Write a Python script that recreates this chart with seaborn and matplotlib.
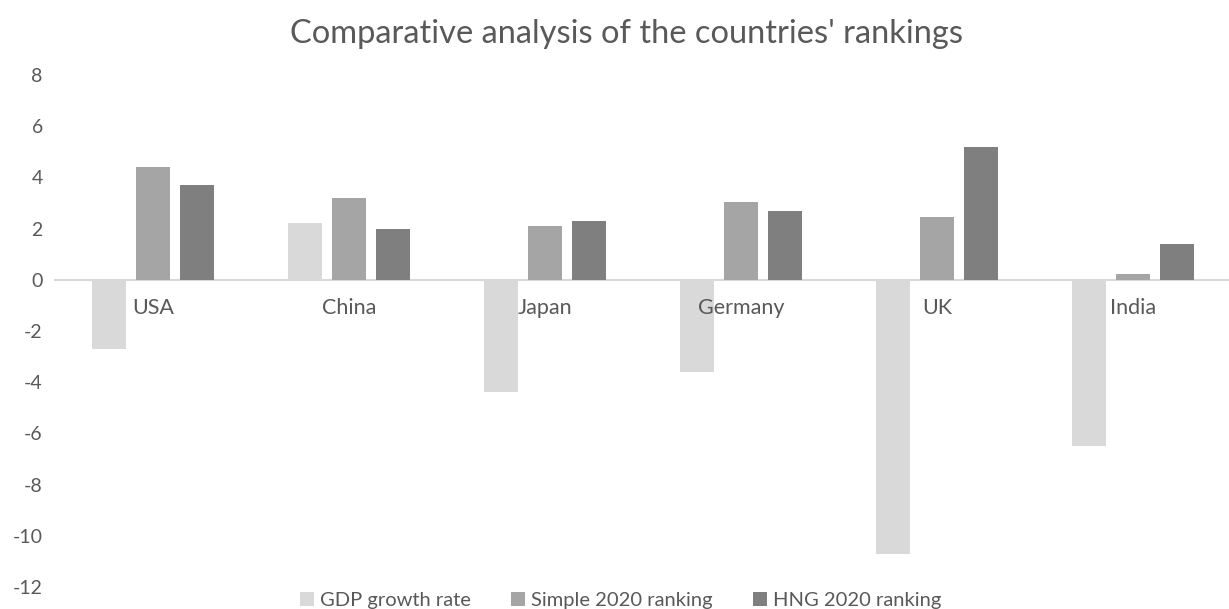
import matplotlib
matplotlib.use("Agg")
import matplotlib.pyplot as plt
import seaborn as sns
import pandas as pd

# values
countries = ["USA", "China", "Japan", "Germany", "UK", "India"]
gdp_growth = [-2.7, 2.2, -4.4, -3.6, -10.7, -6.5]
simple_2020 = [4.4, 3.2, 2.1, 3.05, 2.45, 0.23]
hng_2020 = [3.7, 2.0, 2.3, 2.7, 5.2, 1.4]
series = ["GDP growth rate", "Simple 2020 ranking", "HNG 2020 ranking"]
yticks = [-12, -10, -8, -6, -4, -2, 0, 2, 4, 6, 8]

df = pd.DataFrame({
    "country": countries * 3,
    "value": gdp_growth + simple_2020 + hng_2020,
    "series": [s for s in series for _ in countries],
})

sns.set_style("white")
plt.rcParams["font.family"] = ["Lato", "DejaVu Sans"]
txt = "#595959"

fig = plt.figure(figsize=(12.29, 6.09), dpi=100)
ax = fig.add_axes([0.045, 0.036, 0.955, 0.841])

sns.barplot(data=df, x="country", y="value", hue="series", order=countries,
            hue_order=series, palette=["#d9d9d9", "#a5a5a5", "#7f7f7f"],
            width=0.673, gap=0.23, linewidth=0, ax=ax)

ax.set_ylim(-12, 8)
ax.set_xlim(-0.5, 5.49)
ax.set_yticks(yticks)
ax.set_yticklabels([str(t) for t in yticks], color=txt, fontsize=14)
ax.set_xlabel("")
ax.set_ylabel("")

for s in ["top", "right", "left"]:
    ax.spines[s].set_visible(False)
ax.spines["bottom"].set_position(("data", 0))
ax.spines["bottom"].set_color("#d9d9d9")
ax.spines["bottom"].set_linewidth(1.5)
ax.spines["bottom"].set_zorder(0)
ax.tick_params(axis="x", length=0, pad=13, labelsize=15.5, labelcolor=txt)
ax.tick_params(axis="y", length=0, pad=9)
# category names sit on top of the bars, as in the original
ax.xaxis.set_zorder(5)

fig.suptitle("Comparative analysis of the countries' rankings", x=0.51, y=0.968,
             fontsize=23.5, color=txt)

handles, labels = ax.get_legend_handles_labels()
ax.get_legend().remove()
fig.legend(handles, labels, loc="lower center", bbox_to_anchor=(0.505, -0.03),
           ncol=3, frameon=False, fontsize=14.5, labelcolor=txt,
           handlelength=0.7, handleheight=0.7, handletextpad=0.3,
           columnspacing=2.0)

fig.savefig("out.png", dpi=100)
